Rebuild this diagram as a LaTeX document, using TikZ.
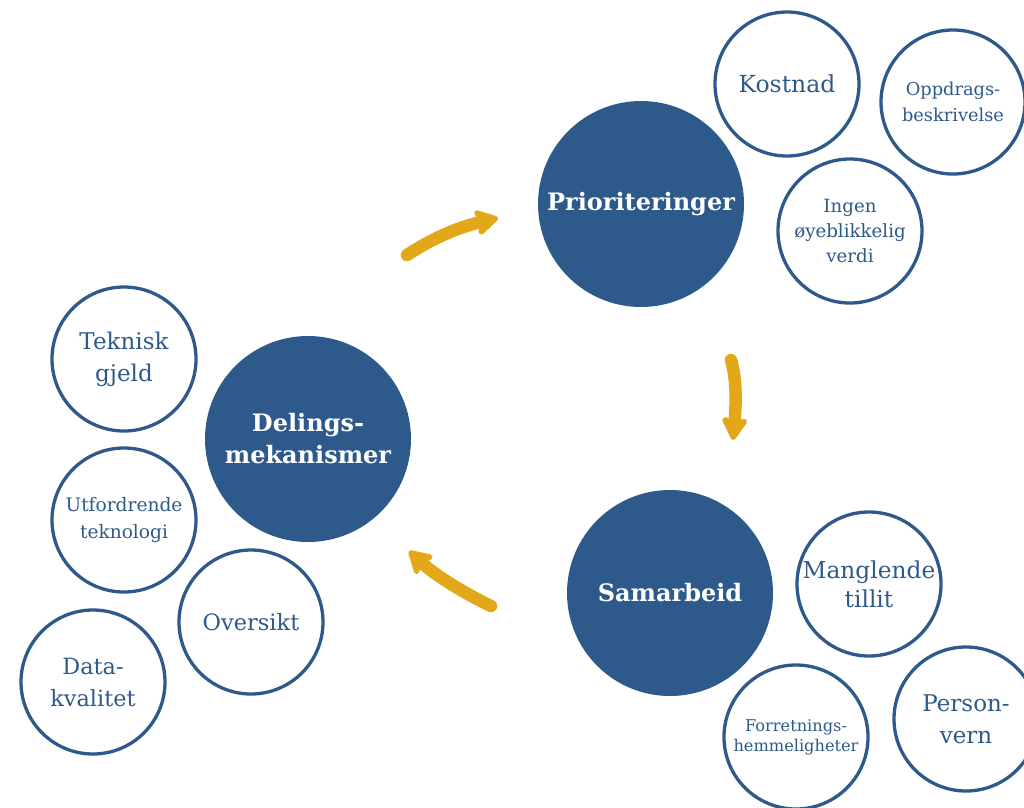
\documentclass[tikz,border=0pt]{standalone}
\usepackage{fontspec}
\setmainfont{DejaVu Serif}
\usetikzlibrary{arrows.meta}
\definecolor{navy}{HTML}{2E5A8B}
\definecolor{gold}{HTML}{E2A819}
\tikzset{
  big/.style={circle, fill=navy, draw=none, minimum size=206pt, inner sep=0pt, text=white, align=center, font=\fontsize{24}{32}\selectfont\bfseries},
  small/.style={circle, fill=white, draw=navy, line width=3.3pt, minimum size=144pt, inner sep=0pt, text=navy, align=center},
  flow/.style={draw=gold, line width=12.5pt, line cap=round, -{Stealth[length=27pt, width=31pt, inset=6pt, round=false]}}
}
\begin{document}
\begin{tikzpicture}[x=1pt, y=-1pt]
\useasboundingbox (0,0) rectangle (1024,807);
% big circles
\node[big] (prio) at (641,204) {Prioriteringer};
\node[big] (deling) at (308,439) {Delings-\\mekanismer};
\node[big] (sam) at (670,593) {Samarbeid};
% small circles around Prioriteringer
\node[small, font=\fontsize{23.5}{28}\selectfont] (kost) at (787,84) {Kostnad};
\node[small, font=\fontsize{17.8}{26}\selectfont] (oppd) at (953,102) {Oppdrags-\\beskrivelse};
\node[small, font=\fontsize{18.2}{25}\selectfont] (ingen) at (850,231) {Ingen\\øyeblikkelig\\verdi};
% small circles around Samarbeid
\node[small, font=\fontsize{23.3}{29}\selectfont] (mangl) at (869,584) {Manglende\\tillit};
\node[small, font=\fontsize{16.2}{20}\selectfont] (forr) at (796,737) {Forretnings-\\hemmeligheter};
\node[small, font=\fontsize{23}{32}\selectfont] (pers) at (966,719) {Person-\\vern};
% small circles around Delingsmekanismer
\node[small, font=\fontsize{23}{32}\selectfont] (tekn) at (124,359) {Teknisk\\gjeld};
\node[small, font=\fontsize{18.6}{27}\selectfont] (utf) at (124,520) {Utfordrende\\teknologi};
\node[small, font=\fontsize{22.5}{28}\selectfont] (overs) at (251,622) {Oversikt};
\node[small, font=\fontsize{22.4}{32}\selectfont] (data) at (93,682) {Data-\\kvalitet};
% arrows
\coordinate (a1s) at (407,255);
\coordinate (a1e) at (498,218);
\coordinate (a2s) at (731,360);
\coordinate (a2e) at (733,440);
\coordinate (a3s) at (491,606);
\coordinate (a3e) at (409,551);
\draw[flow] (a1s) .. controls (430,240) and (455,228) .. (a1e);
\draw[flow] (a2s) .. controls (737,380) and (736,405) .. (a2e);
\draw[flow] (a3s) .. controls (462,592) and (435,575) .. (a3e);
\end{tikzpicture}
\end{document}
